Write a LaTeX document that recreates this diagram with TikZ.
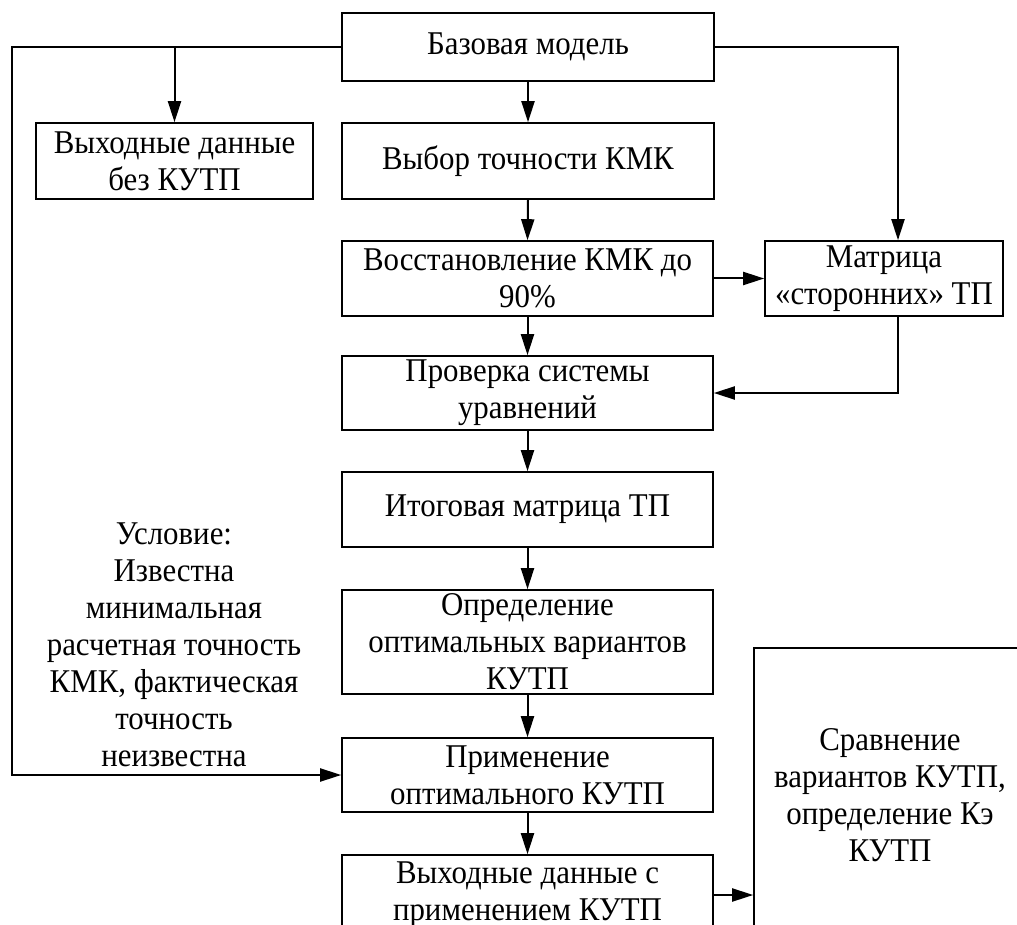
\documentclass[tikz,border=0pt]{standalone}
\usepackage{fontspec}
\setmainfont{Liberation Serif}[FakeStretch=0.93]
\usetikzlibrary{arrows.meta}
\begin{document}
\begin{tikzpicture}[x=0.5pt,y=-0.5pt,
  font=\fontsize{16.6}{18.5}\selectfont,
  box/.style={draw, line width=0.8pt, align=center, inner sep=0pt},
  sz/.style 2 args={minimum width=#1*0.5pt, minimum height=#2*0.5pt},
  link/.style={line width=1pt, -{Triangle[length=10.5pt,width=6.5pt]}}]
\useasboundingbox (0,0) rectangle (1017,925);
\clip (0,0) rectangle (1017,925);

% process boxes
\node[box, sz={372}{68}] (base) at (528,47) {Базовая модель};
\node[box, sz={277}{76}] (outA) at (174.5,161) {Выходные данные\\без КУТП};
\node[box, sz={372}{76}] (choose) at (528,161) {Выбор точности КМК};
\node[box, sz={371}{75}] (restore) at (527.5,278.5) {Восстановление КМК до\\90\%};
\node[box, sz={238}{75}] (matrix) at (884,278.5) {Матрица\\«сторонних» ТП};
\node[box, sz={371}{74}] (check) at (527.5,393) {Проверка системы\\уравнений};
\node[box, sz={371}{75}] (final) at (527.5,509.5) {Итоговая матрица ТП};
\node[box, sz={371}{104}] (optdef) at (527.5,642) {Определение\\оптимальных вариантов\\КУТП};
\node[box, sz={371}{74}] (apply) at (527.5,775) {Применение\\оптимального КУТП};
\node[box, sz={371}{80}] (outB) at (527.5,895) {Выходные данные с\\применением КУТП};
\node[box, sz={272}{294}] (compare) at (890,795) {Сравнение\\вариантов КУТП,\\определение Кэ\\КУТП};

% condition note
\node[align=center] (cond) at (174,645) {Условие:\\Известна\\минимальная\\расчетная точность\\КМК, фактическая\\точность\\неизвестна};

% routing points
\coordinate (lt) at (12,47);
\coordinate (lb) at (12,775);
\coordinate (rt) at (898,47);

% connectors
\draw[link] (base.west) -- (lt) -- (lb) -- (apply.west);
\draw[link] (base.west -| outA.north) -- (outA.north);
\draw[link] (base.south) -- (choose.north);
\draw[link] (base.east) -- (rt) -- (rt |- matrix.north);
\draw[link] (choose.south) -- (restore.north);
\draw[link] (restore.east) -- (matrix.west);
\draw[link] (restore.south) -- (check.north);
\draw[link] (rt |- matrix.south) -- (rt |- check.east) -- (check.east);
\draw[link] (check.south) -- (final.north);
\draw[link] (final.south) -- (optdef.north);
\draw[link] (optdef.south) -- (apply.north);
\draw[link] (apply.south) -- (outB.north);
\draw[link] (outB.east) -- (outB.east -| compare.west);
\end{tikzpicture}
\end{document}
